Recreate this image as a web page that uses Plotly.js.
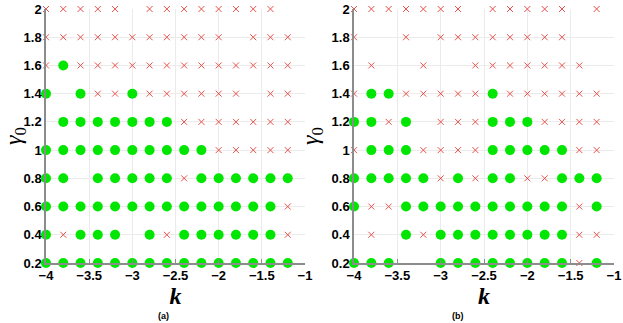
<!DOCTYPE html>
<html>
<head>
<meta charset="utf-8">
<script src="https://cdn.plot.ly/plotly-3.0.1.min.js"></script>
<style>
  body { margin: 0; background: #fff; }
  #chartDiv { width: 623px; height: 323px; }
</style>
</head>
<body>
<div id="chartDiv"></div>
<script>
// k values along x, gamma0 values along y
var kVals = [-4, -3.8, -3.6, -3.4, -3.2, -3, -2.8, -2.6, -2.4, -2.2, -2, -1.8, -1.6, -1.4, -1.2];
var gammaVals = [0.2, 0.4, 0.6, 0.8, 1, 1.2, 1.4, 1.6, 1.8, 2];

// g = green dot, r = red cross, . = nothing ; one string per gamma row (bottom to top)
var rowsA = [
  'ggggggggggggggg',
  'grggg.grggggggr',
  'ggggggggggggggr',
  'gg.gggggrgggggg',
  'ggggggggggrrrrr',
  '.gggggggrrrrrrr',
  'g.grrgrrrrrr.rr',
  'rgrrrrrrrrrrrrr',
  'rrrrrrrrrrr.rrr',
  'rrrrr.rrrrrrrr.'
];
var rowsB = [
  'ggg..ggggggggrg',
  '.r.grggggggggrr',
  'grrggggggggggrg',
  'gggggrgrggrrggg',
  'rgggrrrrgggggrr',
  'ggrg.rrrgggrrrr',
  'rggrrrrrgrrrrrr',
  '.r..r..rrrrrrr.',
  'r..r.rrrrrrrr..',
  'rrrrrrr.rrrrr.r'
];

var pick = (rows, code) => {
  var xs = [], ys = []
  rows.forEach((row, j) => {
    row.split('').forEach((c, i) => {
      if (c == code) { xs.push(kVals[i]); ys.push(gammaVals[j]) }
    })
  })
  return {x: xs, y: ys}
}

var greenMarker = {color: '#00e600', size: 10, symbol: 'circle'}
var redMarker = {color: '#e8514c', size: 6, symbol: 'x-thin', line: {color: '#e8514c', width: 1}}

var makeTrace = (rows, code, xa, ya) => {
  var p = pick(rows, code)
  return {
    type: 'scatter', mode: 'markers', x: p.x, y: p.y,
    xaxis: xa, yaxis: ya, cliponaxis: false, showlegend: false,
    marker: code == 'g' ? greenMarker : redMarker
  }
}

var data = [
  makeTrace(rowsA, 'r', 'x', 'y'),
  makeTrace(rowsA, 'g', 'x', 'y'),
  makeTrace(rowsB, 'r', 'x2', 'y2'),
  makeTrace(rowsB, 'g', 'x2', 'y2')
]

var tickFont = {family: 'Liberation Sans, Arial', size: 13, color: '#000', weight: 'bold'}

var xAxisBase = {
  range: [-4, -1], dtick: 0.5, tick0: -4,
  showgrid: true, gridcolor: '#ebebeb', zeroline: false,
  showline: true, linecolor: '#8c8c8c', linewidth: 1.5,
  ticks: 'inside', ticklen: 4, tickcolor: '#8c8c8c',
  tickfont: tickFont,
  title: {text: '<i>k</i>', font: {family: 'Liberation Serif, Times New Roman', size: 24, color: '#000', weight: 'bold'}, standoff: 4}
}
var yAxisBase = {
  range: [0.2, 2], dtick: 0.2, tick0: 0.2,
  showgrid: true, gridcolor: '#ebebeb', zeroline: false,
  showline: true, linecolor: '#8c8c8c', linewidth: 1.5,
  ticks: '', tickfont: tickFont,
  title: {text: '<i>γ</i><sub>0</sub>', font: {family: 'Liberation Serif, Times New Roman', size: 24, color: '#000'}, standoff: 6}
}

var labelFont = {family: 'Liberation Sans, Arial', size: 9, color: '#000', weight: 'bold'}

var layout = {
  width: 623, height: 323,
  margin: {l: 46, r: 9, t: 9, b: 60},
  paper_bgcolor: '#fff', plot_bgcolor: '#fff',
  xaxis: Object.assign({}, xAxisBase, {domain: [0, 0.456], anchor: 'y'}),
  yaxis: Object.assign({}, yAxisBase, {anchor: 'x'}),
  xaxis2: Object.assign({}, xAxisBase, {domain: [0.5423, 1], anchor: 'y2'}),
  yaxis2: Object.assign({}, yAxisBase, {anchor: 'x2'}),
  annotations: [
    {text: '(a)', xref: 'paper', yref: 'paper', x: 0.194, y: -0.209, yanchor: 'middle', showarrow: false, font: labelFont},
    {text: '(b)', xref: 'paper', yref: 'paper', x: 0.739, y: -0.209, yanchor: 'middle', showarrow: false, font: labelFont}
  ]
}

Plotly.newPlot('chartDiv', data, layout, {displayModeBar: false})
</script>
</body>
</html>
